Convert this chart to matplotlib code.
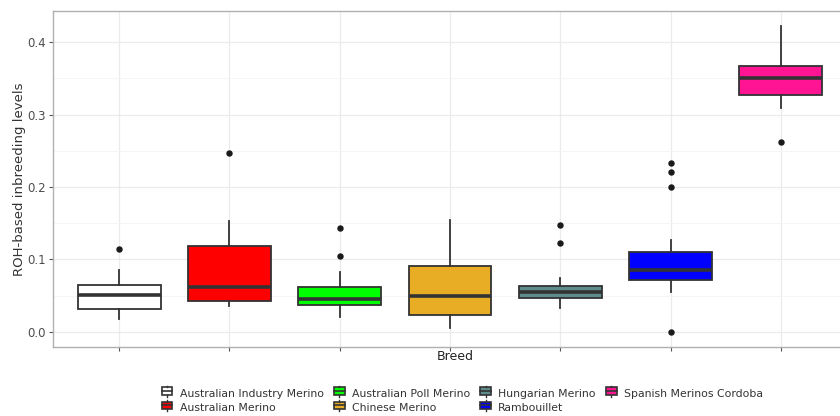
import matplotlib
matplotlib.use('Agg')
import matplotlib.pyplot as plt
import matplotlib.patches as mpatches
from matplotlib.legend_handler import HandlerBase
import matplotlib.lines as mlines

plt.rcParams['font.family'] = ['DejaVu Sans']

# Box statistics
breeds = ['Australian Industry Merino', 'Australian Merino', 'Australian Poll Merino',
          'Chinese Merino', 'Hungarian Merino', 'Rambouillet', 'Spanish Merinos Cordoba']
q1 = [0.032, 0.042, 0.037, 0.023, 0.0465, 0.071, 0.327]
medians = [0.051, 0.062, 0.0455, 0.050, 0.055, 0.086, 0.350]
q3 = [0.064, 0.118, 0.0625, 0.0915, 0.063, 0.110, 0.367]
whis_lo = [0.018, 0.035, 0.020, 0.005, 0.033, 0.055, 0.309]
whis_hi = [0.085, 0.153, 0.082, 0.155, 0.074, 0.127, 0.422]
outliers = [[0.115], [0.247], [0.104, 0.144], [], [0.122, 0.148],
            [0.0, 0.200, 0.221, 0.233], [0.262]]
fills = ['#FFFFFF', '#FF0000', '#00FF00', '#E8AD24', '#5E8B8B', '#0000FF', '#FF1493']

EDGE = '#333333'

stats = []
for i, name in enumerate(breeds):
    stats.append(dict(label=name, q1=q1[i], med=medians[i], q3=q3[i],
                      whislo=whis_lo[i], whishi=whis_hi[i], fliers=outliers[i]))

fig = plt.figure(figsize=(8.4, 4.16), dpi=100)
ax = fig.add_axes([53 / 840, 1 - 347 / 416, (847 - 53) / 840, (347 - 11) / 416])

positions = list(range(1, len(breeds) + 1))
bp = ax.bxp(stats, positions=positions, widths=0.75, patch_artist=True,
            showcaps=False,
            boxprops=dict(edgecolor=EDGE, linewidth=1.3),
            medianprops=dict(color=EDGE, linewidth=2.6, solid_capstyle='butt'),
            whiskerprops=dict(color=EDGE, linewidth=1.3),
            flierprops=dict(marker='o', markerfacecolor='#1a1a1a', markeredgecolor='#1a1a1a',
                            markersize=3.6, linestyle='none'))
for patch, c in zip(bp['boxes'], fills):
    patch.set_facecolor(c)

# theme_bw look
ax.set_xlim(0.4, 7.6)
ax.set_ylim(-0.021, 0.443)
ax.set_yticks([0.0, 0.1, 0.2, 0.3, 0.4])
ax.set_yticks([0.05, 0.15, 0.25, 0.35], minor=True)
ax.set_xticks(positions)
ax.set_xticklabels([])
ax.grid(True, which='major', color='#EBEBEB', linewidth=0.9)
ax.grid(True, which='minor', axis='y', color='#F4F4F4', linewidth=0.6)
ax.set_axisbelow(True)
ax.tick_params(axis='both', which='major', length=3, color='#555555', labelsize=8.5,
               labelcolor='#4d4d4d', pad=2)
ax.tick_params(axis='y', which='minor', length=0)
for s in ax.spines.values():
    s.set_color('#b0b0b0')
    s.set_linewidth(1.0)

ax.set_ylabel('ROH-based inbreeding levels', fontsize=9.5, color='#333333', labelpad=1)
fig.text(455 / 840, 1 - 357 / 416, 'Breed', fontsize=9, color='#222222',
         ha='center', va='center')


class BoxKeyHandler(HandlerBase):
    def create_artists(self, legend, orig_handle, x0, y0, width, height, fontsize, trans):
        fc = orig_handle.get_facecolor()
        w = width * 0.9
        h = height * 0.8
        bx = x0 + (width - w) / 2
        by = y0 + (height - h) / 2
        rect = mpatches.Rectangle((bx, by), w, h, facecolor=fc, edgecolor=EDGE,
                                  linewidth=1.2, transform=trans)
        med = mlines.Line2D([bx, bx + w], [by + h / 2, by + h / 2], color=EDGE,
                            linewidth=1.2, transform=trans)
        wl = mlines.Line2D([x0 + width / 2] * 2, [by + h, by + h * 1.2], color=EDGE,
                           linewidth=1.0, transform=trans)
        wl2 = mlines.Line2D([x0 + width / 2] * 2, [by, by - h * 0.2], color=EDGE,
                            linewidth=1.0, transform=trans)
        return [rect, med, wl, wl2]


handles = [mpatches.Patch(facecolor=c, label=b) for b, c in zip(breeds, fills)]
leg = fig.legend(handles=handles, loc='center', bbox_to_anchor=(462 / 840, 1 - 401 / 416),
                 ncol=4, fontsize=7.8, frameon=False, handlelength=1.1, handleheight=1.0,
                 handletextpad=0.6, columnspacing=0.9, labelspacing=0.35,
                 handler_map={mpatches.Patch: BoxKeyHandler()})
for t in leg.get_texts():
    t.set_color('#333333')

fig.savefig('out.png', dpi=100)
